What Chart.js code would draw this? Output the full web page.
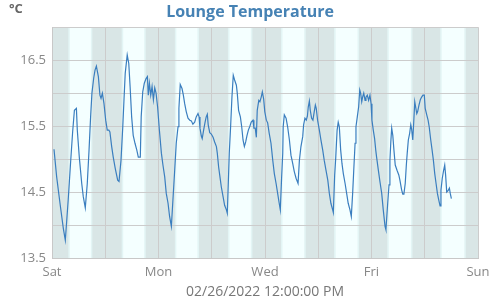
<!DOCTYPE html>
<html>
<head>
<meta charset="utf-8">
<script src="https://cdn.jsdelivr.net/npm/chart.js@4"></script>
<style>
html,body{margin:0;padding:0;background:#fff;}
#wrap{width:500px;height:300px;}
</style>
</head>
<body>
<div id="wrap"><canvas id="c" width="500" height="300"></canvas></div>
<script>
// Hours since Sat 00:00
const hours = [0.9,2.1,3.6,5.1,6.0,7.3,8.4,9.3,10.1,11.0,11.4,12.3,13.4,14.1,15.0,15.9,16.7,17.4,18.0,18.8,19.4,20.0,20.9,21.6,22.1,22.7,23.4,24.2,24.9,25.6,26.1,26.9,27.6,28.5,29.6,30.2,31.1,31.9,32.5,33.0,33.9,34.6,35.2,35.9,36.6,37.4,38.2,38.9,39.8,40.2,40.9,41.6,42.4,43.0,43.4,43.9,44.5,45.1,45.7,46.3,46.9,47.6,48.4,49.3,50.0,50.8,51.5,52.3,53.0,53.8,54.5,55.3,56.0,56.8,57.2,57.8,58.6,59.2,59.8,60.5,61.3,62.1,62.8,63.5,64.3,65.0,65.8,66.3,66.7,67.3,67.7,68.4,69.0,69.5,70.0,70.4,71.1,71.8,72.6,73.3,74.1,74.5,75.1,75.7,76.3,77.1,77.8,78.6,79.0,79.5,79.9,80.5,81.1,81.7,82.3,83.1,83.5,84.1,84.9,85.5,86.1,86.7,87.3,87.9,88.5,89.1,89.8,90.6,91.0,91.6,92.1,92.5,93.2,93.7,94.3,94.8,95.4,95.9,96.6,97.2,97.9,98.7,99.5,100.2,101.0,101.7,102.4,102.9,103.5,104.0,104.2,104.7,105.5,106.2,107.0,107.7,108.5,109.2,110.0,110.9,111.5,112.2,113.0,113.4,114.0,114.6,115.1,115.5,116.0,116.4,117.0,117.6,118.2,118.7,119.1,119.7,120.5,121.2,122.0,122.7,123.5,124.3,125.0,125.7,126.5,126.8,127.4,127.9,128.5,129.0,129.5,130.1,130.7,131.3,132.1,132.8,133.5,134.3,134.9,135.5,136.0,136.6,137.0,137.6,138.2,138.7,139.1,139.6,140.0,140.5,141.1,141.5,142.1,142.7,143.3,143.8,144.2,144.8,145.4,145.9,146.3,147.1,147.8,148.6,149.3,150.1,150.5,151.3,151.9,152.3,152.7,153.1,153.6,154.1,154.7,155.5,156.3,156.8,157.6,158.1,158.6,159.2,159.7,160.1,160.6,161.2,161.7,162.1,162.6,163.0,163.5,163.9,164.4,164.8,165.4,166.0,166.6,167.2,167.8,168.2,168.9,169.5,170.0,170.7,171.3,171.9,172.5,173.1,173.7,174.3,174.9,175.3,175.9,176.5,177.0,177.4,177.9,178.5,179.1,179.5,180.0];
const temps = [15.15,14.73,14.33,13.95,13.77,14.38,14.96,15.41,15.74,15.77,15.44,15.03,14.63,14.43,14.26,14.63,15.14,15.64,16.0,16.23,16.35,16.41,16.25,15.97,15.92,16.0,15.85,15.59,15.44,15.44,15.41,15.19,15.03,14.86,14.68,14.66,14.98,15.49,15.94,16.30,16.58,16.45,16.10,15.64,15.36,15.24,15.14,15.03,15.03,15.64,16.02,16.15,16.22,16.25,15.97,16.15,15.97,16.1,15.9,16.08,16.0,15.79,15.44,15.09,14.91,14.73,14.48,14.33,14.13,13.98,14.38,14.83,15.24,15.49,15.77,16.13,16.07,15.97,15.84,15.72,15.62,15.59,15.58,15.53,15.56,15.64,15.69,15.64,15.47,15.35,15.31,15.45,15.56,15.64,15.68,15.52,15.40,15.38,15.33,15.26,15.19,15.09,14.88,14.73,14.58,14.43,14.30,14.23,14.18,14.68,15.09,15.49,15.94,16.27,16.2,16.12,16.0,15.74,15.64,15.49,15.29,15.19,15.26,15.36,15.44,15.49,15.56,15.59,15.47,15.47,15.33,15.74,15.89,15.87,15.94,16.02,15.91,15.72,15.59,15.55,15.39,15.24,14.98,14.78,14.63,14.48,14.33,14.23,14.73,15.09,15.49,15.67,15.62,15.49,15.29,15.06,14.93,14.81,14.71,14.63,14.98,15.19,15.34,15.52,15.62,15.59,15.65,15.79,15.88,15.74,15.62,15.59,15.72,15.82,15.77,15.59,15.44,15.29,15.14,14.98,14.83,14.68,14.48,14.33,14.23,14.19,14.76,15.03,15.44,15.56,15.49,15.14,14.93,14.78,14.63,14.48,14.33,14.23,14.13,14.48,14.83,15.24,15.49,15.64,15.79,16.05,16.0,15.87,15.94,16.0,15.89,15.94,15.97,15.89,15.97,15.84,15.59,15.44,15.31,15.14,15.03,14.83,14.66,14.48,14.23,13.98,13.93,14.33,14.61,14.98,15.26,15.47,15.36,15.14,14.91,14.83,14.76,14.68,14.53,14.47,14.47,14.63,14.91,15.09,15.29,15.39,15.52,15.45,15.29,15.54,15.87,15.79,15.69,15.72,15.82,15.9,15.94,15.97,15.97,15.77,15.67,15.59,15.49,15.29,15.14,14.98,14.78,14.63,14.48,14.38,14.29,14.53,14.71,14.83,14.91,14.76,14.50,14.52,14.56,14.48,14.40];

const dayNames = ['Sat','Sun','Mon','Tue','Wed','Thu','Fri','Sat','Sun'];
// end of darkness (dawn) and start of darkness (dusk) per day, hours of day
const dawnHours = [7.35,7.4,7.35,7.3,7.2,7.15,7.1,6.95];
const duskHours = [18.2,18.25,18.25,18.3,18.35,18.4,18.45,18.5];
const twilight = 0.7;
const dateLabel = '02/26/2022 12:00:00 PM';

const bandPlugin = {
  id: 'bands',
  beforeDraw(chart) {
    const {ctx, chartArea: a, scales: {x}} = chart;
    ctx.save();
    ctx.beginPath();
    ctx.rect(a.left, a.top, a.right - a.left, a.bottom - a.top);
    ctx.clip();
    ctx.fillStyle = '#d9e6e6';
    ctx.fillRect(a.left, a.top, a.right - a.left, a.bottom - a.top);
    for (let d = 0; d < dawnHours.length; d++) {
      const dawn = d * 24 + dawnHours[d];
      const dusk = d * 24 + duskHours[d];
      const x0 = x.getPixelForValue(dawn), x1 = x.getPixelForValue(dawn + twilight);
      const x2 = x.getPixelForValue(dusk - twilight), x3 = x.getPixelForValue(dusk);
      ctx.fillStyle = '#e3f5f5';
      ctx.fillRect(x0, a.top, x3 - x0, a.bottom - a.top);
      ctx.fillStyle = '#f4ffff';
      ctx.fillRect(x1, a.top, x2 - x1, a.bottom - a.top);
    }
    ctx.restore();
  },
  afterDraw(chart) {
    const ctx = chart.ctx;
    ctx.save();
    ctx.font = 'bold 13px "Open Sans"';
    ctx.fillStyle = '#666666';
    ctx.textBaseline = 'top';
    ctx.textAlign = 'left';
    ctx.fillText('°C', 9, 3);
    ctx.restore();
  }
};

new Chart(document.getElementById('c'), {
  type: 'line',
  data: {
    datasets: [{
      data: hours.map((h, i) => ({x: h, y: temps[i]})),
      borderColor: '#3a7ebf',
      borderWidth: 1.2,
      pointRadius: 0,
      fill: false,
      tension: 0
    }]
  },
  options: {
    responsive: false,
    animation: false,
    devicePixelRatio: 1,
    layout: {padding: 0},
    plugins: {
      legend: {display: false},
      tooltip: {enabled: false},
      title: {
        display: true,
        text: 'Lounge Temperature',
        color: '#4682b4',
        font: {family: '"Open Sans"', size: 16, weight: 'bold'},
        padding: {top: 3, bottom: 5}
      }
    },
    scales: {
      x: {
        type: 'linear',
        min: 0, max: 192,
        afterFit(s) { s.height = 42; },
        grid: {color: '#cccccc', lineWidth: 1, drawTicks: false},
        border: {color: '#c8c8c8'},
        ticks: {
          stepSize: 24,
          autoSkip: false,
          maxRotation: 0,
          padding: 6,
          color: '#888888',
          font: {family: '"Open Sans"', size: 13},
          callback(v) { const i = Math.round(v / 24); return i % 2 === 0 ? dayNames[i] : ''; }
        },
        title: {
          display: true,
          text: dateLabel,
          color: '#777777',
          font: {family: '"Open Sans"', size: 14},
          padding: {top: 0, bottom: 0}
        }
      },
      y: {
        min: 13.5, max: 17.0,
        afterFit(s) { s.width = 52; },
        grid: {color: '#cccccc', lineWidth: 1, drawTicks: false},
        border: {color: '#c8c8c8'},
        ticks: {
          stepSize: 0.5,
          padding: 6,
          color: '#888888',
          font: {family: '"Open Sans"', size: 13},
          callback(v) { return Math.abs(((v - 13.5) % 1)) < 0.01 ? v.toFixed(1) : ''; }
        }
      },
      yRight: {
        position: 'right',
        min: 13.5, max: 17.0,
        afterFit(s) { s.width = 22; },
        grid: {display: false, drawTicks: false},
        border: {display: false},
        ticks: {display: false}
      }
    }
  },
  plugins: [bandPlugin]
});
</script>
</body>
</html>
